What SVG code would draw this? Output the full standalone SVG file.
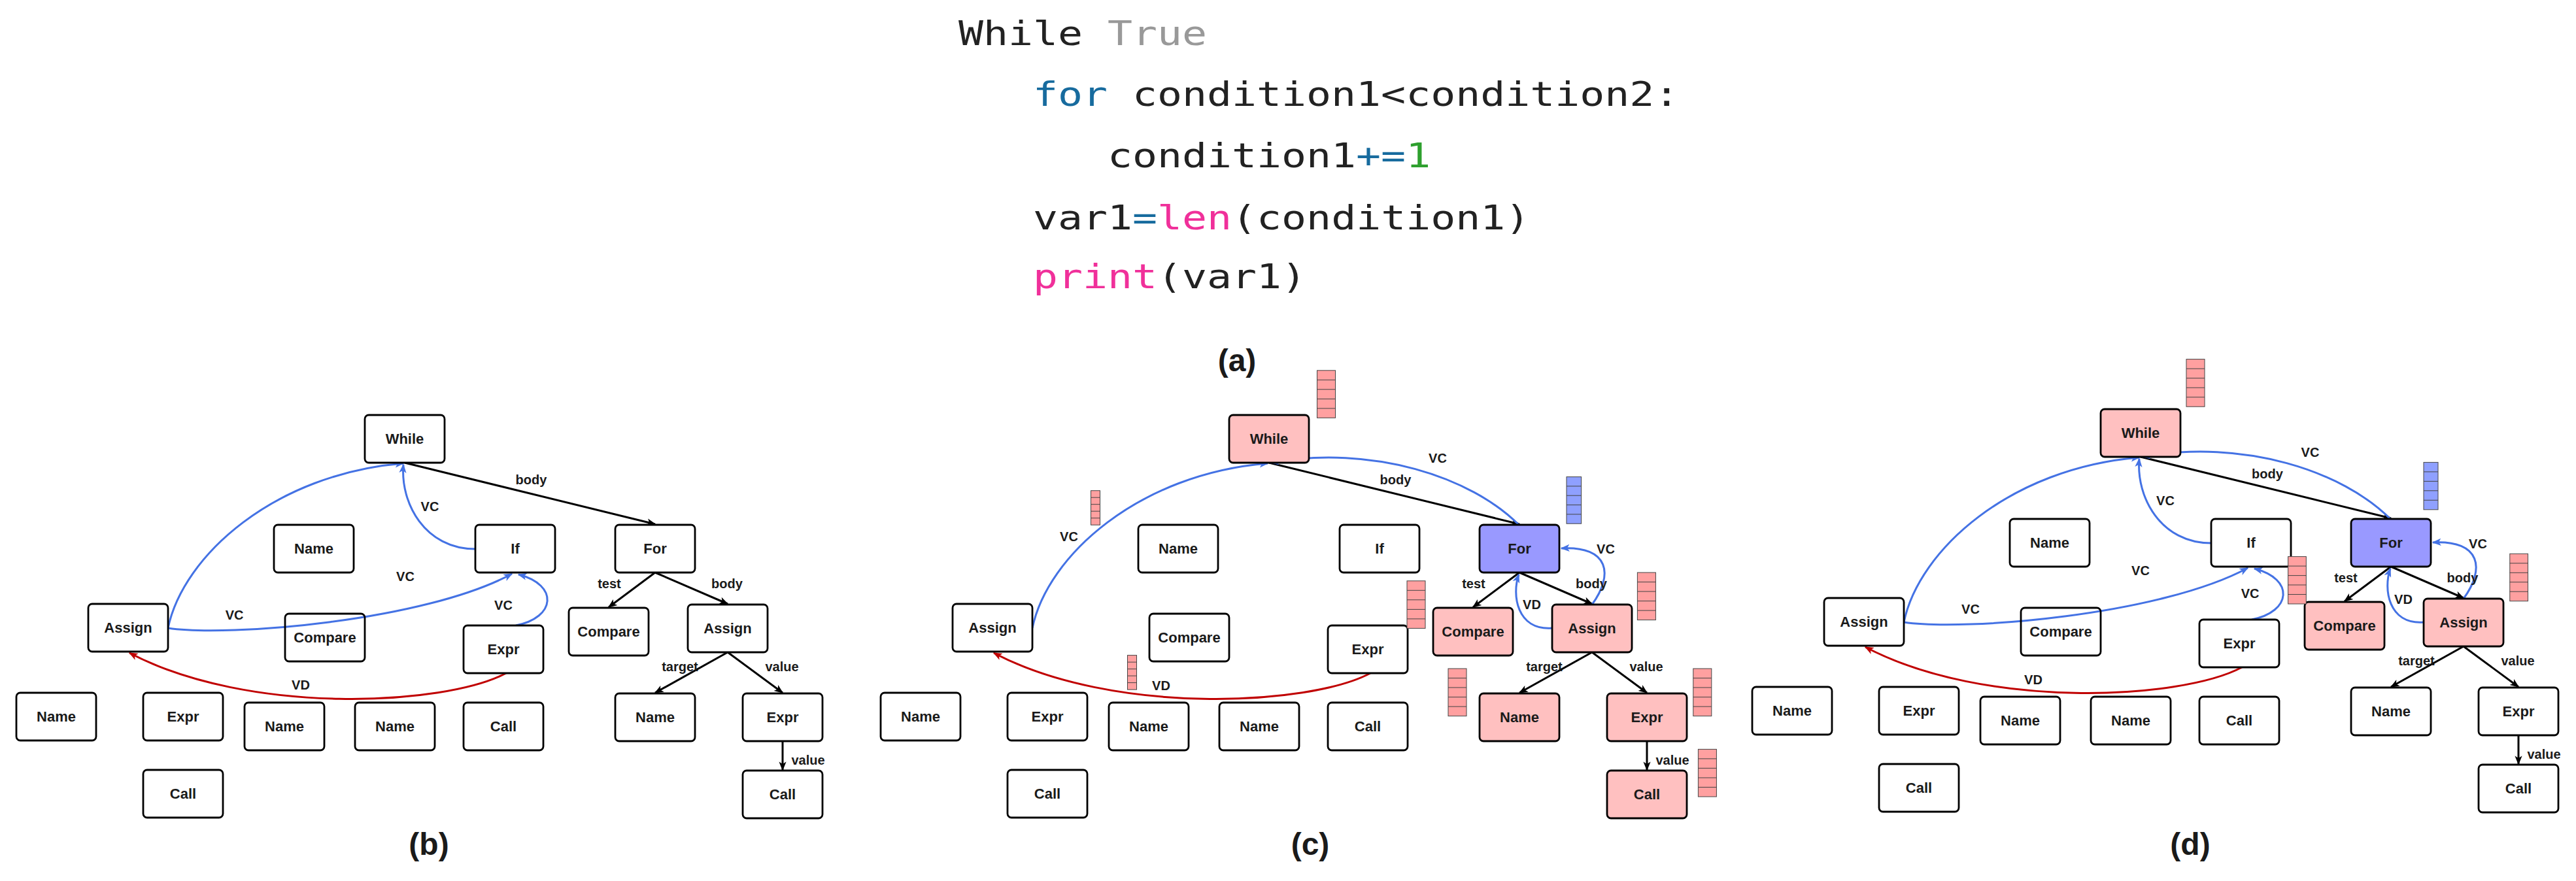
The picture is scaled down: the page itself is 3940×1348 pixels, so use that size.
<svg xmlns="http://www.w3.org/2000/svg" width="3940" height="1348" viewBox="0 0 3940 1348">
<style>
.n rect{fill:#fff;stroke:#000;stroke-width:2.8}
.n.p rect{fill:#FFC0C0}
.n.u rect{fill:#9999FF}
.n text{font-family:'Liberation Sans',Arial,sans-serif;font-weight:bold;font-size:22px;text-anchor:middle;fill:#1a1a1a}
.lbl{font-family:'Liberation Sans',Arial,sans-serif;font-weight:bold;font-size:20px;text-anchor:middle;fill:#1a1a1a}
.e{stroke:#000;stroke-width:3;fill:none;marker-end:url(#ab)}
.vc{stroke:#4472E4;stroke-width:3;fill:none;marker-end:url(#abl)}
.vd{stroke:#C00000;stroke-width:3;fill:none;marker-end:url(#ar)}
.st rect{fill:#FFA0A0;stroke:#444;stroke-width:1}
.st.b rect{fill:#8FA0FF}
.st line{stroke:#444;stroke-width:1}
.cap{font-family:'Liberation Sans',Arial,sans-serif;font-weight:bold;font-size:48px;text-anchor:middle;fill:#1a1a1a}
.code{font-family:'DejaVu Sans Mono',monospace;font-size:52px;fill:#222;white-space:pre}
.kw{fill:#176B9E}
.num{fill:#2EA02E}
.fn{fill:#F0309A}
.gr{fill:#999}
</style>
<defs>
<marker id="ab" viewBox="0 0 10 10" refX="9" refY="5" markerWidth="14" markerHeight="14" markerUnits="userSpaceOnUse" orient="auto"><path d="M0,1 L10,5 L0,9 L2.5,5 z" fill="#000"/></marker>
<marker id="abl" viewBox="0 0 10 10" refX="9" refY="5" markerWidth="14" markerHeight="14" markerUnits="userSpaceOnUse" orient="auto"><path d="M0,1 L10,5 L0,9 L2.5,5 z" fill="#4472E4"/></marker>
<marker id="ar" viewBox="0 0 10 10" refX="9" refY="5" markerWidth="14" markerHeight="14" markerUnits="userSpaceOnUse" orient="auto"><path d="M0,1 L10,5 L0,9 L2.5,5 z" fill="#C00000"/></marker>
</defs>
<rect width="3940" height="1348" fill="#fff"/>

<g id="code">
<g transform="translate(1466,0) scale(1.2143,1)">
<text class="code" x="0" y="69"><tspan>While</tspan><tspan class="gr"> True</tspan></text>
<text class="code" x="93.9" y="162"><tspan class="kw">for</tspan><tspan> condition1&lt;condition2:</tspan></text>
<text class="code" x="187.8" y="256.5"><tspan>condition1</tspan><tspan class="kw">+=</tspan><tspan class="num">1</tspan></text>
<text class="code" x="93.9" y="351"><tspan>var1</tspan><tspan class="kw">=</tspan><tspan class="fn">len</tspan><tspan>(condition1)</tspan></text>
<text class="code" x="93.9" y="441.5"><tspan class="fn">print</tspan><tspan>(var1)</tspan></text>
</g>
</g>

<text class="cap" x="1892" y="568">(a)</text>
<text class="cap" x="656" y="1308">(b)</text>
<text class="cap" x="2004" y="1308">(c)</text>
<text class="cap" x="3350" y="1308">(d)</text>

<!-- ===== Panel (b) ===== -->
<g id="panel-b">
<g id="b-edges">
<path class="e" d="M619,708 L1002,802"/>
<path class="e" d="M1002,876 L931,929"/>
<path class="e" d="M1002,876 L1113,924"/>
<path class="e" d="M1113,998 L1002,1060"/>
<path class="e" d="M1113,998 L1197,1060"/>
<path class="e" d="M1197,1134 L1197,1178"/>
<path class="vc" d="M257,961 C280,850 420,725 617,709"/>
<path class="vc" d="M727,840 C650,840 612,770 617,711"/>
<path class="vc" d="M257,961 C350,975 650,950 783,878"/>
<path class="vc" d="M789,957 C850,945 855,895 793,879"/>
<path class="vd" d="M774,1030 C680,1080 380,1095 198,999"/>
<text class="lbl" x="812.5" y="734" dy="0.35em">body</text>
<text class="lbl" x="657.5" y="775" dy="0.35em">VC</text>
<text class="lbl" x="620" y="881.5" dy="0.35em">VC</text>
<text class="lbl" x="358.6" y="941" dy="0.35em">VC</text>
<text class="lbl" x="770" y="926" dy="0.35em">VC</text>
<text class="lbl" x="460" y="1048" dy="0.35em">VD</text>
<text class="lbl" x="932" y="893" dy="0.35em">test</text>
<text class="lbl" x="1112" y="893" dy="0.35em">body</text>
<text class="lbl" x="1040" y="1020" dy="0.35em">target</text>
<text class="lbl" x="1196" y="1020" dy="0.35em">value</text>
<text class="lbl" x="1236" y="1163" dy="0.35em">value</text>
</g>
<g id="b-while" class="n" transform="translate(558,635)"><rect width="122" height="73" rx="6"/><text x="61" y="36.5" dy="0.35em">While</text></g>
<g id="b-name1" class="n" transform="translate(419,803)"><rect width="122" height="73" rx="6"/><text x="61" y="36.5" dy="0.35em">Name</text></g>
<g id="b-if" class="n" transform="translate(727,803)"><rect width="122" height="73" rx="6"/><text x="61" y="36.5" dy="0.35em">If</text></g>
<g id="b-for" class="n" transform="translate(941,803)"><rect width="122" height="73" rx="6"/><text x="61" y="36.5" dy="0.35em">For</text></g>
<g id="b-assign1" class="n" transform="translate(135,924)"><rect width="122" height="73" rx="6"/><text x="61" y="36.5" dy="0.35em">Assign</text></g>
<g id="b-compare1" class="n" transform="translate(436,939)"><rect width="122" height="73" rx="6" fill-opacity="0"/><text x="61" y="36.5" dy="0.35em">Compare</text></g>
<g id="b-expr1" class="n" transform="translate(709,957)"><rect width="122" height="73" rx="6"/><text x="61" y="36.5" dy="0.35em">Expr</text></g>
<g id="b-compare2" class="n" transform="translate(870,930)"><rect width="122" height="73" rx="6"/><text x="61" y="36.5" dy="0.35em">Compare</text></g>
<g id="b-assign2" class="n" transform="translate(1052,925)"><rect width="122" height="73" rx="6"/><text x="61" y="36.5" dy="0.35em">Assign</text></g>
<g id="b-name2" class="n" transform="translate(25,1060)"><rect width="122" height="73" rx="6"/><text x="61" y="36.5" dy="0.35em">Name</text></g>
<g id="b-expr2" class="n" transform="translate(219,1060)"><rect width="122" height="73" rx="6"/><text x="61" y="36.5" dy="0.35em">Expr</text></g>
<g id="b-name3" class="n" transform="translate(374,1075)"><rect width="122" height="73" rx="6"/><text x="61" y="36.5" dy="0.35em">Name</text></g>
<g id="b-name4" class="n" transform="translate(543,1075)"><rect width="122" height="73" rx="6"/><text x="61" y="36.5" dy="0.35em">Name</text></g>
<g id="b-call1" class="n" transform="translate(709,1075)"><rect width="122" height="73" rx="6"/><text x="61" y="36.5" dy="0.35em">Call</text></g>
<g id="b-name5" class="n" transform="translate(941,1061)"><rect width="122" height="73" rx="6"/><text x="61" y="36.5" dy="0.35em">Name</text></g>
<g id="b-expr3" class="n" transform="translate(1136,1061)"><rect width="122" height="73" rx="6"/><text x="61" y="36.5" dy="0.35em">Expr</text></g>
<g id="b-call2" class="n" transform="translate(219,1178)"><rect width="122" height="73" rx="6"/><text x="61" y="36.5" dy="0.35em">Call</text></g>
<g id="b-call3" class="n" transform="translate(1136,1179)"><rect width="122" height="73" rx="6"/><text x="61" y="36.5" dy="0.35em">Call</text></g>
</g>

<!-- ===== Panel (c) ===== -->
<g id="panel-c" transform="translate(1322,0)">
<g id="c-edges">
<path class="e" d="M619,708 L1002,802"/>
<path class="e" d="M1002,876 L931,929"/>
<path class="e" d="M1002,876 L1113,924"/>
<path class="e" d="M1113,998 L1002,1060"/>
<path class="e" d="M1113,998 L1197,1060"/>
<path class="e" d="M1197,1134 L1197,1178"/>
<path class="vc" d="M257,961 C280,850 420,725 617,709"/>
<path class="vc" d="M1001,803 C928,730 778,680 621,708"/>
<path class="vc" d="M1113,925 C1146,880 1140,835 1066,839"/>
<path class="vc" d="M1052,961 C998,965 990,910 1001,879"/>
<path class="vd" d="M774,1030 C680,1080 380,1095 198,999"/>
<text class="lbl" x="877" y="701" dy="0.35em">VC</text>
<text class="lbl" x="812.5" y="734" dy="0.35em">body</text>
<text class="lbl" x="1134" y="840" dy="0.35em">VC</text>
<text class="lbl" x="932" y="893" dy="0.35em">test</text>
<text class="lbl" x="1112" y="893" dy="0.35em">body</text>
<text class="lbl" x="1021" y="925" dy="0.35em">VD</text>
<text class="lbl" x="1040" y="1020" dy="0.35em">target</text>
<text class="lbl" x="1196" y="1020" dy="0.35em">value</text>
<text class="lbl" x="1236" y="1163" dy="0.35em">value</text>
<text class="lbl" x="313" y="821" dy="0.35em">VC</text>
<text class="lbl" x="454" y="1049" dy="0.35em">VD</text>
</g>
<g id="c-while" class="n p" transform="translate(558,635)"><rect width="122" height="73" rx="6"/><text x="61" y="36.5" dy="0.35em">While</text></g>
<g id="c-name1" class="n" transform="translate(419,803)"><rect width="122" height="73" rx="6"/><text x="61" y="36.5" dy="0.35em">Name</text></g>
<g id="c-if" class="n" transform="translate(727,803)"><rect width="122" height="73" rx="6"/><text x="61" y="36.5" dy="0.35em">If</text></g>
<g id="c-for" class="n u" transform="translate(941,803)"><rect width="122" height="73" rx="6"/><text x="61" y="36.5" dy="0.35em">For</text></g>
<g id="c-assign1" class="n" transform="translate(135,924)"><rect width="122" height="73" rx="6"/><text x="61" y="36.5" dy="0.35em">Assign</text></g>
<g id="c-compare1" class="n" transform="translate(436,939)"><rect width="122" height="73" rx="6"/><text x="61" y="36.5" dy="0.35em">Compare</text></g>
<g id="c-expr1" class="n" transform="translate(709,957)"><rect width="122" height="73" rx="6"/><text x="61" y="36.5" dy="0.35em">Expr</text></g>
<g id="c-compare2" class="n p" transform="translate(870,930)"><rect width="122" height="73" rx="6"/><text x="61" y="36.5" dy="0.35em">Compare</text></g>
<g id="c-assign2" class="n p" transform="translate(1052,925)"><rect width="122" height="73" rx="6"/><text x="61" y="36.5" dy="0.35em">Assign</text></g>
<g id="c-name2" class="n" transform="translate(25,1060)"><rect width="122" height="73" rx="6"/><text x="61" y="36.5" dy="0.35em">Name</text></g>
<g id="c-expr2" class="n" transform="translate(219,1060)"><rect width="122" height="73" rx="6"/><text x="61" y="36.5" dy="0.35em">Expr</text></g>
<g id="c-name3" class="n" transform="translate(374,1075)"><rect width="122" height="73" rx="6"/><text x="61" y="36.5" dy="0.35em">Name</text></g>
<g id="c-name4" class="n" transform="translate(543,1075)"><rect width="122" height="73" rx="6"/><text x="61" y="36.5" dy="0.35em">Name</text></g>
<g id="c-call1" class="n" transform="translate(709,1075)"><rect width="122" height="73" rx="6"/><text x="61" y="36.5" dy="0.35em">Call</text></g>
<g id="c-name5" class="n p" transform="translate(941,1061)"><rect width="122" height="73" rx="6"/><text x="61" y="36.5" dy="0.35em">Name</text></g>
<g id="c-expr3" class="n p" transform="translate(1136,1061)"><rect width="122" height="73" rx="6"/><text x="61" y="36.5" dy="0.35em">Expr</text></g>
<g id="c-call2" class="n" transform="translate(219,1178)"><rect width="122" height="73" rx="6"/><text x="61" y="36.5" dy="0.35em">Call</text></g>
<g id="c-call3" class="n p" transform="translate(1136,1179)"><rect width="122" height="73" rx="6"/><text x="61" y="36.5" dy="0.35em">Call</text></g>
<g id="c-stacks">
<g class="st" transform="translate(692.5,566.8)"><rect width="28" height="72.6"/><line x1="0" x2="28" y1="14.5" y2="14.5"/><line x1="0" x2="28" y1="29" y2="29"/><line x1="0" x2="28" y1="43.6" y2="43.6"/><line x1="0" x2="28" y1="58.1" y2="58.1"/></g>
<g class="st" transform="translate(346.5,750.7)"><rect width="14" height="52.5"/><line x1="0" x2="14" y1="10.5" y2="10.5"/><line x1="0" x2="14" y1="21" y2="21"/><line x1="0" x2="14" y1="31.5" y2="31.5"/><line x1="0" x2="14" y1="42" y2="42"/></g>
<g class="st" transform="translate(402.5,1002.6)"><rect width="14" height="52.5"/><line x1="0" x2="14" y1="10.5" y2="10.5"/><line x1="0" x2="14" y1="21" y2="21"/><line x1="0" x2="14" y1="31.5" y2="31.5"/><line x1="0" x2="14" y1="42" y2="42"/></g>
<g class="st b" transform="translate(1074,729.6)"><rect width="22.6" height="71.6"/><line x1="0" x2="22.6" y1="14.3" y2="14.3"/><line x1="0" x2="22.6" y1="28.6" y2="28.6"/><line x1="0" x2="22.6" y1="43" y2="43"/><line x1="0" x2="22.6" y1="57.3" y2="57.3"/></g>
<g class="st" transform="translate(830,888.8)"><rect width="28" height="72.6"/><line x1="0" x2="28" y1="14.5" y2="14.5"/><line x1="0" x2="28" y1="29" y2="29"/><line x1="0" x2="28" y1="43.6" y2="43.6"/><line x1="0" x2="28" y1="58.1" y2="58.1"/></g>
<g class="st" transform="translate(1182.4,876)"><rect width="28" height="72.6"/><line x1="0" x2="28" y1="14.5" y2="14.5"/><line x1="0" x2="28" y1="29" y2="29"/><line x1="0" x2="28" y1="43.6" y2="43.6"/><line x1="0" x2="28" y1="58.1" y2="58.1"/></g>
<g class="st" transform="translate(893,1023)"><rect width="28" height="72.6"/><line x1="0" x2="28" y1="14.5" y2="14.5"/><line x1="0" x2="28" y1="29" y2="29"/><line x1="0" x2="28" y1="43.6" y2="43.6"/><line x1="0" x2="28" y1="58.1" y2="58.1"/></g>
<g class="st" transform="translate(1267.8,1023)"><rect width="28" height="72.6"/><line x1="0" x2="28" y1="14.5" y2="14.5"/><line x1="0" x2="28" y1="29" y2="29"/><line x1="0" x2="28" y1="43.6" y2="43.6"/><line x1="0" x2="28" y1="58.1" y2="58.1"/></g>
<g class="st" transform="translate(1275.4,1146.4)"><rect width="28" height="72.6"/><line x1="0" x2="28" y1="14.5" y2="14.5"/><line x1="0" x2="28" y1="29" y2="29"/><line x1="0" x2="28" y1="43.6" y2="43.6"/><line x1="0" x2="28" y1="58.1" y2="58.1"/></g>
</g>
</g>

<!-- ===== Panel (d) ===== -->
<g id="panel-d" transform="translate(2655,-9)">
<g id="d-edges">
<path class="e" d="M619,708 L1002,802"/>
<path class="e" d="M1002,876 L931,929"/>
<path class="e" d="M1002,876 L1113,924"/>
<path class="e" d="M1113,998 L1002,1060"/>
<path class="e" d="M1113,998 L1197,1060"/>
<path class="e" d="M1197,1134 L1197,1178"/>
<path class="vc" d="M257,961 C280,850 420,725 617,709"/>
<path class="vc" d="M727,840 C650,840 612,770 617,711"/>
<path class="vc" d="M257,961 C350,975 650,950 783,878"/>
<path class="vc" d="M789,957 C850,945 855,895 793,879"/>
<path class="vc" d="M1001,803 C928,730 778,680 621,708"/>
<path class="vc" d="M1113,925 C1146,880 1140,835 1066,839"/>
<path class="vc" d="M1052,961 C998,965 990,910 1001,879"/>
<path class="vd" d="M774,1030 C680,1080 380,1095 198,999"/>
<text class="lbl" x="878.5" y="700.6" dy="0.35em">VC</text>
<text class="lbl" x="813" y="734" dy="0.35em">body</text>
<text class="lbl" x="657" y="774.5" dy="0.35em">VC</text>
<text class="lbl" x="786.6" y="917" dy="0.35em">VC</text>
<text class="lbl" x="359" y="941" dy="0.35em">VC</text>
<text class="lbl" x="619" y="882" dy="0.35em">VC</text>
<text class="lbl" x="455" y="1049" dy="0.35em">VD</text>
<text class="lbl" x="933" y="893" dy="0.35em">test</text>
<text class="lbl" x="1111.5" y="893" dy="0.35em">body</text>
<text class="lbl" x="1135" y="840.5" dy="0.35em">VC</text>
<text class="lbl" x="1021" y="926" dy="0.35em">VD</text>
<text class="lbl" x="1041" y="1020" dy="0.35em">target</text>
<text class="lbl" x="1196" y="1020" dy="0.35em">value</text>
<text class="lbl" x="1236" y="1162.6" dy="0.35em">value</text>
</g>
<g id="d-while" class="n p" transform="translate(558,635)"><rect width="122" height="73" rx="6"/><text x="61" y="36.5" dy="0.35em">While</text></g>
<g id="d-name1" class="n" transform="translate(419,803)"><rect width="122" height="73" rx="6"/><text x="61" y="36.5" dy="0.35em">Name</text></g>
<g id="d-if" class="n" transform="translate(727,803)"><rect width="122" height="73" rx="6"/><text x="61" y="36.5" dy="0.35em">If</text></g>
<g id="d-for" class="n u" transform="translate(941,803)"><rect width="122" height="73" rx="6"/><text x="61" y="36.5" dy="0.35em">For</text></g>
<g id="d-assign1" class="n" transform="translate(135,924)"><rect width="122" height="73" rx="6"/><text x="61" y="36.5" dy="0.35em">Assign</text></g>
<g id="d-compare1" class="n" transform="translate(436,939)"><rect width="122" height="73" rx="6" fill-opacity="0"/><text x="61" y="36.5" dy="0.35em">Compare</text></g>
<g id="d-expr1" class="n" transform="translate(709,957)"><rect width="122" height="73" rx="6"/><text x="61" y="36.5" dy="0.35em">Expr</text></g>
<g id="d-compare2" class="n p" transform="translate(870,930)"><rect width="122" height="73" rx="6"/><text x="61" y="36.5" dy="0.35em">Compare</text></g>
<g id="d-assign2" class="n p" transform="translate(1052,925)"><rect width="122" height="73" rx="6"/><text x="61" y="36.5" dy="0.35em">Assign</text></g>
<g id="d-name2" class="n" transform="translate(25,1060)"><rect width="122" height="73" rx="6"/><text x="61" y="36.5" dy="0.35em">Name</text></g>
<g id="d-expr2" class="n" transform="translate(219,1060)"><rect width="122" height="73" rx="6"/><text x="61" y="36.5" dy="0.35em">Expr</text></g>
<g id="d-name3" class="n" transform="translate(374,1075)"><rect width="122" height="73" rx="6"/><text x="61" y="36.5" dy="0.35em">Name</text></g>
<g id="d-name4" class="n" transform="translate(543,1075)"><rect width="122" height="73" rx="6"/><text x="61" y="36.5" dy="0.35em">Name</text></g>
<g id="d-call1" class="n" transform="translate(709,1075)"><rect width="122" height="73" rx="6"/><text x="61" y="36.5" dy="0.35em">Call</text></g>
<g id="d-name5" class="n" transform="translate(941,1061)"><rect width="122" height="73" rx="6"/><text x="61" y="36.5" dy="0.35em">Name</text></g>
<g id="d-expr3" class="n" transform="translate(1136,1061)"><rect width="122" height="73" rx="6"/><text x="61" y="36.5" dy="0.35em">Expr</text></g>
<g id="d-call2" class="n" transform="translate(219,1178)"><rect width="122" height="73" rx="6"/><text x="61" y="36.5" dy="0.35em">Call</text></g>
<g id="d-call3" class="n" transform="translate(1136,1179)"><rect width="122" height="73" rx="6"/><text x="61" y="36.5" dy="0.35em">Call</text></g>
<g id="d-stacks">
<g class="st" transform="translate(689,558.6)"><rect width="28" height="72.6"/><line x1="0" x2="28" y1="14.5" y2="14.5"/><line x1="0" x2="28" y1="29" y2="29"/><line x1="0" x2="28" y1="43.6" y2="43.6"/><line x1="0" x2="28" y1="58.1" y2="58.1"/></g>
<g class="st b" transform="translate(1052,716.4)"><rect width="22" height="72.4"/><line x1="0" x2="22" y1="14.5" y2="14.5"/><line x1="0" x2="22" y1="29" y2="29"/><line x1="0" x2="22" y1="43.4" y2="43.4"/><line x1="0" x2="22" y1="57.9" y2="57.9"/></g>
<g class="st" transform="translate(844.6,860.6)"><rect width="27.7" height="72.4"/><line x1="0" x2="27.7" y1="14.5" y2="14.5"/><line x1="0" x2="27.7" y1="29" y2="29"/><line x1="0" x2="27.7" y1="43.4" y2="43.4"/><line x1="0" x2="27.7" y1="57.9" y2="57.9"/></g>
<g class="st" transform="translate(1183.8,856.3)"><rect width="27.7" height="72.4"/><line x1="0" x2="27.7" y1="14.5" y2="14.5"/><line x1="0" x2="27.7" y1="29" y2="29"/><line x1="0" x2="27.7" y1="43.4" y2="43.4"/><line x1="0" x2="27.7" y1="57.9" y2="57.9"/></g>
</g>
</g>
</svg>
